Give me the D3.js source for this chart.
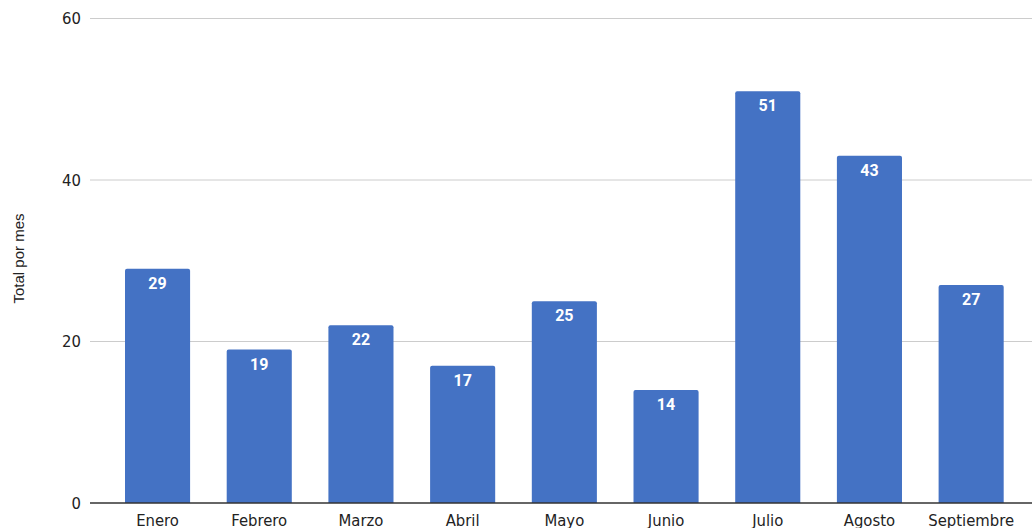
<!DOCTYPE html>
<html><head><meta charset="utf-8">
<script src="https://cdn.jsdelivr.net/npm/d3@7"></script>
<style>html,body{margin:0;padding:0;background:#fff;}svg{display:block;}</style>
</head><body>
<script>
const categories = ["Enero","Febrero","Marzo","Abril","Mayo","Junio","Julio","Agosto","Septiembre"];
const values = [29,19,22,17,25,14,51,43,27];
const yTicks = [0,20,40,60];
const yTitle = "Total por mes";

const W = 1032, H = 528;
const svg = d3.select("body").append("svg").attr("width", W).attr("height", H);

const x = d3.scaleBand().domain(categories).range([106.7, 1022]).paddingInner(0.36).paddingOuter(0.18);
const y = d3.scaleLinear().domain([0, 60]).range([503, 18.5]);

const condensed = "'DejaVu Sans Condensed', 'DejaVu Sans'";

// gridlines
svg.append("g").selectAll("line").data(yTicks.filter(d => d !== 0)).join("line")
  .attr("x1", 90).attr("x2", W)
  .attr("y1", d => y(d)).attr("y2", d => y(d))
  .attr("stroke", "#cccccc").attr("stroke-width", 1);

// y tick labels
svg.append("g").selectAll("text").data(yTicks).join("text")
  .attr("x", 81).attr("y", d => y(d)).attr("dy", "0.36em")
  .attr("text-anchor", "end")
  .attr("font-family", condensed).attr("font-stretch", "condensed").attr("font-size", 16.5).attr("fill", "#222")
  .text(d => d);

// bars with rounded top corners
const r = 2;
svg.append("g").selectAll("path").data(values).join("path")
  .attr("fill", "#4472C4")
  .attr("d", (d, i) => {
    const x0 = x(categories[i]), w = x.bandwidth(), y0 = y(d), yb = y(0);
    return `M${x0},${yb}V${y0 + r}Q${x0},${y0} ${x0 + r},${y0}H${x0 + w - r}Q${x0 + w},${y0} ${x0 + w},${y0 + r}V${yb}Z`;
  });

// value labels
svg.append("g").selectAll("text").data(values).join("text")
  .attr("x", (d, i) => x(categories[i]) + x.bandwidth() / 2)
  .attr("y", d => y(d) + 20)
  .attr("text-anchor", "middle")
  .attr("font-family", "Roboto").attr("font-weight", "bold").attr("font-size", 16)
  .attr("fill", "#fff")
  .text(d => d);

// baseline
svg.append("line").attr("x1", 90).attr("x2", W).attr("y1", y(0)).attr("y2", y(0))
  .attr("stroke", "#333").attr("stroke-width", 1.3);

// category labels
svg.append("g").selectAll("text").data(categories).join("text")
  .attr("x", d => x(d) + x.bandwidth() / 2)
  .attr("y", 525.5)
  .attr("text-anchor", "middle")
  .attr("font-family", condensed).attr("font-stretch", "condensed").attr("font-size", 16.5).attr("fill", "#222")
  .text(d => d);

// y title
svg.append("text")
  .attr("transform", "translate(23.8,258.5) rotate(-90)")
  .attr("text-anchor", "middle")
  .attr("font-family", "Liberation Sans, Arial").attr("font-size", 15).attr("fill", "#222")
  .text(yTitle);
</script>
</body></html>
